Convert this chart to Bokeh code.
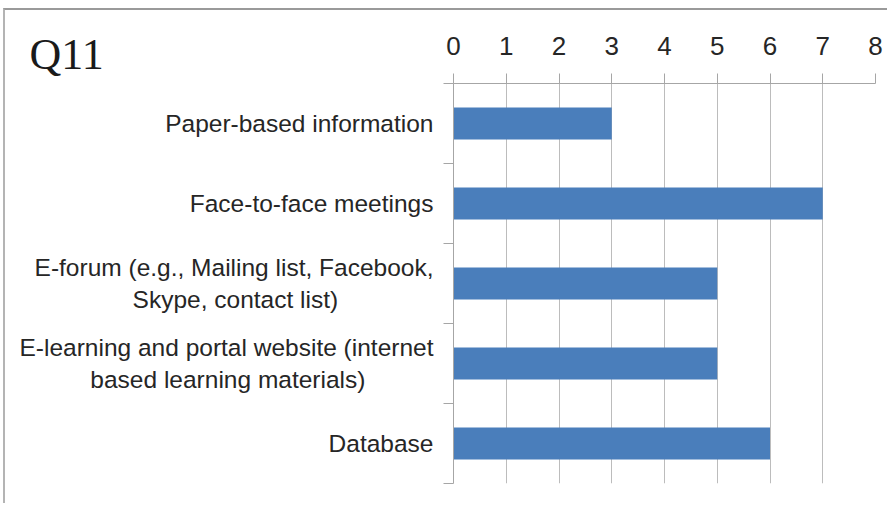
from bokeh.plotting import figure
from bokeh.models import Range1d, FixedTicker
from bokeh.embed import file_html
from bokeh.resources import INLINE

categories = [
    "Paper-based information",
    "Face-to-face meetings",
    "E-forum (e.g., Mailing list, Facebook,\nSkype, contact list)",
    "E-learning and portal website (internet\nbased learning materials)",
    "Database",
]
values = [3, 7, 5, 5, 6]
x_ticks = [0, 1, 2, 3, 4, 5, 6, 7, 8]
title_text = "Q11"

line_pad = {2: 14, 3: 10}

def padded(i, lab):
    if "\n" in lab:
        a, b = lab.split("\n")
        return a + "\n" + b + "\u00a0" * line_pad.get(i, 0)
    return lab

n = len(categories)
centers = [i + 0.5 for i in range(n)]
bounds = list(range(n + 1))

p = figure(width=884, height=495, output_backend="svg", toolbar_location=None,
           x_range=Range1d(x_ticks[0], x_ticks[-1]), y_range=Range1d(n, 0),
           x_axis_location="above", title=title_text,
           min_border_left=448, min_border_right=14, min_border_top=73, min_border_bottom=22)

p.hbar(y=centers, left=0, right=values, height=0.4, fill_color="#4A7EBB", line_color=None)

p.outline_line_color = None
p.ygrid.visible = False
p.xgrid.grid_line_color = "#bcbcbc"

ax = p.xaxis[0]
ax.ticker = FixedTicker(ticks=x_ticks)
ax.major_tick_in = 0
ax.major_tick_out = 10
ax.minor_tick_in = 0
ax.minor_tick_out = 0
ax.axis_line_color = "#a6a6a6"
ax.major_tick_line_color = "#a6a6a6"
ax.major_label_text_font = "Liberation Sans"
ax.major_label_text_font_size = "26px"
ax.major_label_text_color = "#262626"
ax.major_label_standoff = 19

ay = p.yaxis[0]
ay.ticker = FixedTicker(ticks=centers, minor_ticks=bounds)
ay.major_label_overrides = {c: padded(i, lab) for i, (c, lab) in enumerate(zip(centers, categories))}
ay.major_tick_in = 0
ay.major_tick_out = 0
ay.minor_tick_in = 0
ay.minor_tick_out = 10
ay.axis_line_color = "#a6a6a6"
ay.minor_tick_line_color = "#a6a6a6"
ay.major_label_text_font = "Liberation Sans"
ay.major_label_text_font_size = "24.5px"
ay.major_label_text_color = "#262626"
ay.major_label_standoff = 10

t = p.title
t.align = "left"
t.vertical_align = "top"
t.offset = -424
t.standoff = -53
t.text_font = "Liberation Serif"
t.text_font_size = "44px"
t.text_font_style = "normal"
t.text_color = "#1a1a1a"
if "padding" in t.properties():
    t.padding = {"left": 0, "right": 0, "top": 45, "bottom": 0}
    t.standoff = -98

p.styles = {"margin-top": "8px", "margin-left": "3px",
            "border-top": "2px solid #9a9a9a", "border-left": "2px solid #b4b4b4"}

open("out.html", "w").write(file_html(p, INLINE))
